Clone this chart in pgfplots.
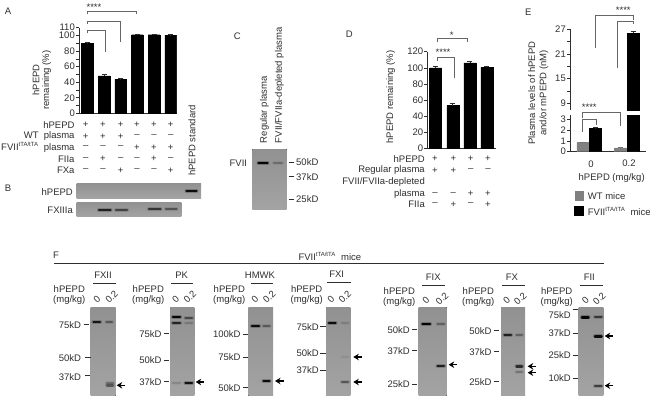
\documentclass[border=0pt]{standalone}
\usepackage{pgfplots}
\pgfplotsset{compat=1.18}
\usepackage{fontspec}
\setmainfont{Liberation Sans}
\usetikzlibrary{arrows.meta}

\definecolor{ink}{gray}{0.18}
\newcommand\fs{\fontsize{9.5}{10}\selectfont}
\newcommand\ft{FVII\textsuperscript{\fontsize{6}{6}\selectfont tTA/tTA}}

\pgfplotsset{
  barpanel/.style={
    scale only axis,
    axis lines=left,
    axis line style={-,ink,line width=0.7pt},
    tick style={ink,line width=0.6pt},
    major tick length=3pt,
    minor tick length=3pt,
    tick align=outside,
    xtick=\empty,
    ticklabel style={font=\fs,text=ink},
    /pgf/number format/assume math mode=true,
    yticklabel style={inner sep=1pt},
    ybar,
    bar shift=0pt,
    ymin=0,
  },
  barblack/.style={fill=black,draw=black,error bars/.cd,y dir=plus,y explicit,
    error bar style={ink,line width=0.6pt},error mark options={ink,line width=0.6pt,mark size=2.5pt,rotate=90}},
  bargray/.style={fill=black!50,draw=black!50,error bars/.cd,y dir=plus,y explicit,
    error bar style={black!55,line width=0.6pt},error mark options={black!55,line width=0.6pt,mark size=2.5pt,rotate=90}},
}

% band on a blot, in picture pixels: x0 x1 y strength
\newcommand\band[4]{%
  \addplot[forget plot,draw=black,line cap=round,line width=4.2pt,opacity=0.25*#4] coordinates {(#1,#3) (#2,#3)};
  \addplot[forget plot,draw=black,line cap=round,line width=2.4pt,opacity=#4] coordinates {(#1,#3) (#2,#3)};
}
\newcommand\blot[4]{\fill[top color=black!43,bottom color=black!36] (#1,#3) rectangle (#2,#4);}
\newcommand\mw[5]{% label, right edge of text, y of text, tick x0, tick y
  \node[anchor=east,inner sep=0pt,font=\fs,text=ink] at (#2,#3) {#1};
  \draw[ink,line width=0.7pt] (#4,#5) -- ++(5.5,0);}
\newcommand\arr[2]{\draw[-{Stealth[length=5.5pt,width=6.5pt]},black,line width=1.2pt] (#1+8.5,#2) -- (#1,#2);}
% title, title x, line x0, line x1, line y, hPEPD x, hPEPD y, 0 x, 0.2 x
\newcommand\head[9]{%
  \node[font=\fs,text=ink,inner sep=0pt] at (#2,#5-8) {#1};
  \draw[ink,line width=0.7pt] (#3,#5) -- (#4,#5);
  \node[font=\fs,text=ink,inner sep=0pt] at (#6,#7) {hPEPD};
  \node[font=\fs,text=ink,inner sep=0pt] at (#6,#7+11) {(mg/kg)};
  \node[font=\fs,text=ink,inner sep=0pt,rotate=45] at (#8,#7+10) {0};
  \node[font=\fs,text=ink,inner sep=0pt,rotate=45] at (#9,#7+8) {0.2};}
\newcommand\brk[4]{\draw[black!60,line width=0.8pt] #1 -- #2 -- #3 -- #4;}
\newcommand\row[4]{% label, y, right edge, x/sign list
  \node[anchor=east,inner sep=0pt,font=\fs,text=ink] at (#3,#2) {#1};
  \foreach \px/\sg in {#4} {\node[inner sep=0pt,font=\fs,text=ink] at (\px,#2) {\sg};}}

\begin{document}
\begin{tikzpicture}
\path[use as bounding box] (0,0) rectangle (656pt,-400pt);

% blots underneath everything
\begin{scope}[x=1pt,y=-1pt]
\blot{76.7}{201}{183.3}{198}
\blot{76.7}{181.3}{202}{216.7}
\blot{252.3}{286.7}{149.3}{209.3}
\blot{90.7}{115.7}{307.7}{395.5}
\blot{170}{194.3}{307.7}{395.5}
\blot{248.3}{273}{307.7}{395.5}
\blot{326}{350.3}{307.7}{395.5}
\blot{418.7}{446.7}{307.3}{395.5}
\blot{501}{525}{307.3}{395.5}
\blot{578.7}{603.3}{307.3}{395.5}
\end{scope}

% bands
\begin{axis}[scale only axis,hide axis,clip=false,width=656pt,height=400pt,
  at={(0pt,-400pt)},anchor=south west,xmin=0,xmax=656,ymin=0,ymax=400,y dir=reverse]
\band{186.5}{196.5}{190.7}{0.9}
\band{99}{110.5}{210}{0.75}
\band{116}{127}{210}{0.5}
\band{149}{160.5}{209}{0.6}
\band{166}{176.5}{208.7}{0.4}
\band{258.5}{267.5}{162.7}{0.95}
\band{274}{282}{162.7}{0.22}
% FXII
\band{93.5}{100}{322}{0.8}
\band{106.5}{112}{321.7}{0.35}
\band{107}{113}{385.3}{0.4}
\band{107}{113}{383}{0.25}
% PK
\band{173}{180}{316.7}{0.95}
\band{173}{180}{322.7}{0.7}
\band{185.5}{192}{317.7}{0.45}
\band{185.5}{192}{323}{0.15}
\band{185.5}{192}{382.7}{0.85}
\band{173}{180}{382.7}{0.12}
% HMWK
\band{252}{259}{326}{0.9}
\band{263.5}{269.5}{326}{0.35}
\band{263.5}{269.5}{380.7}{0.9}
% FXI
\band{329}{335.5}{322.7}{0.9}
\band{342}{348}{322.7}{0.12}
\band{342}{348}{356.7}{0.06}
\band{342}{348}{382}{0.4}
% FIX
\band{422.5}{430}{324}{0.95}
\band{437.5}{444}{324}{0.3}
\band{437.5}{444}{365.7}{0.75}
% FX
\band{504.5}{511}{334.7}{0.75}
\band{516.5}{522}{334.7}{0.3}
\band{516.5}{522}{366.3}{0.65}
\band{516.5}{522}{372}{0.22}
% FII
\band{582}{588.5}{317.3}{0.95}
\band{595}{601.5}{316.7}{0.55}
\band{595}{601.5}{336.3}{0.9}
\band{595}{601.5}{385.7}{0.55}
\end{axis}

% panel A
\begin{axis}[barpanel,at={(79pt,-113.3pt)},anchor=south west,width=97.7pt,height=85.6pt,
  xmin=0.5,xmax=6.36,ymax=110,bar width=11.7pt,
  ytick={0,20,40,60,80,100,110},minor ytick={10,30,50,70,90}]
\addplot[barblack] coordinates {(1,90) +- (0,0.7) (2,48) +- (0,1.5) (3,44) +- (0,0.7)
  (4,101) +- (0,1) (5,101) +- (0,0.5) (6,100.5) +- (0,0.7)};
\end{axis}

% panel D
\begin{axis}[barpanel,at={(427.3pt,-148.3pt)},anchor=south west,width=68.7pt,height=96.6pt,
  xmin=0.51,xmax=4.53,ymax=120,bar width=12pt,ytick={0,20,...,120}]
\addplot[barblack] coordinates {(1,100) +- (0,1.5) (2,53) +- (0,3) (3,106) +- (0,1.5) (4,101) +- (0,1)};
\end{axis}

% panel E, lower part of the broken axis
\begin{axis}[barpanel,at={(570pt,-151.7pt)},anchor=south west,width=75.7pt,height=36.7pt,
  xmin=-0.515,xmax=1.509,ymax=3.4,bar width=12pt,ytick={0,1,2,3}]
\addplot[bargray] coordinates {(-0.17,0.85) +- (0,0.06) (0.83,0.35) +- (0,0.04)};
\addplot[barblack] coordinates {(0.17,2.15) +- (0,0.08) (1.17,26) +- (0,0.6)};
\end{axis}

% panel E, upper part
\begin{axis}[barpanel,axis x line=none,at={(570pt,-110pt)},anchor=south west,width=75.7pt,height=80.7pt,
  xmin=-0.515,xmax=1.509,ymin=7.37,ymax=27,bar width=12pt,ytick={9,15,21,27},minor ytick={12,18,24},clip=false]
\addplot[barblack] coordinates {(1.17,26) +- (0,0.6)};
\end{axis}

\begin{scope}[x=1pt,y=-1pt,every node/.append style={font=\fs,text=ink}]
% letters
\node[inner sep=0pt] at (8,11) {A};
\node[inner sep=0pt] at (8,188) {B};
\node[inner sep=0pt] at (237.3,36) {C};
\node[inner sep=0pt] at (349.3,34) {D};
\node[inner sep=0pt] at (528.3,12) {E};
\node[inner sep=0pt] at (56,255.7) {F};

% A
\node[rotate=90,inner sep=0pt] at (36,80) {hPEPD};
\node[rotate=90,inner sep=0pt] at (46.7,80) {remaining (\%)};
\brk{(87.3,14.3)}{(87.3,11)}{(136.7,11)}{(136.7,14.3)}
\brk{(87.3,24.3)}{(87.3,21)}{(120.7,21)}{(120.7,42.3)}
\brk{(87.3,33.3)}{(87.3,30.7)}{(105,30.7)}{(105,51.7)}
\node[inner sep=0pt] at (94,7) {****};
\row{hPEPD}{125}{74.7}{85.7/+,103/+,120.7/+,137/+,154/+,170.7/+}
\row{WT\ \ plasma}{136.5}{74.7}{85.7/+,103/+,120.7/+,137/--,154/--,170.7/--}
\row{\ft\ \ plasma}{147.5}{74.7}{85.7/--,103/--,120.7/--,137/+,154/+,170.7/+}
\row{FIIa}{159}{74.7}{85.7/--,103/+,120.7/--,137/--,154/+,170.7/--}
\row{FXa}{170.3}{74.7}{85.7/--,103/--,120.7/+,137/--,154/--,170.7/+}
\node[rotate=90,anchor=west,inner sep=0pt] at (192,176) {hPEPD standard};

% B
\node[anchor=east,inner sep=0pt] at (73,192) {hPEPD};
\node[anchor=east,inner sep=0pt] at (73,210) {FXIIIa};

% C
\node[rotate=90,anchor=west,inner sep=0pt] at (264.3,143.3) {Regular plasma};
\node[rotate=90,anchor=west,inner sep=0pt] at (279.3,143.3) {FVII/FVIIa-depleted  plasma};
\node[anchor=east,inner sep=0pt] at (247.3,163) {FVII};
\node[anchor=west,inner sep=0pt] at (296,162.5) {50kD};
\node[anchor=west,inner sep=0pt] at (296,177.5) {37kD};
\node[anchor=west,inner sep=0pt] at (296,199.5) {25kD};
\draw[ink,line width=0.7pt] (288.5,162) -- ++(5,0) (288.5,176) -- ++(5,0) (288.5,199) -- ++(5,0);

% D
\node[rotate=90,inner sep=0pt] at (390.7,97) {hPEPD remaining (\%)};
\brk{(437,42)}{(437,38.3)}{(467.7,38.3)}{(467.7,41.5)}
\brk{(437,60.5)}{(437,57)}{(454,57)}{(454,78.3)}
\node[inner sep=0pt] at (451.7,35.5) {*};
\node[inner sep=0pt] at (443,52) {****};
\row{hPEPD}{158.7}{425}{435/+,453.3/+,470.7/+,488/+}
\row{Regular plasma}{170.3}{425}{435/+,453.3/+,470.7/--,488/--}
\node[anchor=east,inner sep=0pt] at (425,182) {FVII/FVIIa-depleted};
\row{plasma}{193.7}{425}{435/--,453.3/--,470.7/+,488/+}
\row{FIIa}{204.5}{425}{435/--,453.3/+,470.7/--,488/+}

% E
\node[rotate=90,inner sep=0pt] at (531.7,93) {Plasma levels of hPEPD};
\node[rotate=90,inner sep=0pt] at (544,93) {and/or mPEPD (nM)};
\brk{(595,48.3)}{(595,15.7)}{(633.3,15.7)}{(633.3,20)}
\brk{(617.7,68.3)}{(617.7,21)}{(633.3,21)}{(633.3,24.3)}
\brk{(582.3,118.3)}{(582.3,112.7)}{(620.3,112.7)}{(620.3,126)}
\brk{(582.3,131.7)}{(582.3,119)}{(596,119)}{(596,125)}
\node[inner sep=0pt] at (623.3,10.5) {****};
\node[inner sep=0pt] at (589.3,107.5) {****};
\node[inner sep=0pt] at (591,164) {0};
\node[inner sep=0pt] at (629,163) {0.2};
\node[inner sep=0pt] at (611.7,177.7) {hPEPD (mg/kg)};
\fill[black!50] (575,191) rectangle (583.7,201);
\fill[black] (574,205.7) rectangle (584,215.7);
\node[anchor=west,inner sep=0pt] at (587.7,196) {WT  mice};
\node[anchor=west,inner sep=0pt] at (587.7,211) {\ft\ \ mice};

% F
\draw[ink,line width=0.8pt] (54,263.7) -- (604.3,263.7);
\node[anchor=west,inner sep=0pt] at (298.3,256.7) {\ft\ \ mice};

\head{FXII}{103}{93.3}{115.7}{283.3}{69.3}{289}{97}{111.7}
\mw{75kD}{81.3}{325}{83.5}{324.3}
\mw{50kD}{81.3}{357.7}{85}{357.7}
\mw{37kD}{81.3}{376.7}{84.5}{375.3}
\arr{116.7}{385.3}

\head{PK}{181.7}{171}{193.3}{283.3}{148.3}{289}{175.7}{190}
\mw{75kD}{161.7}{334}{163.5}{333.5}
\mw{50kD}{161.7}{360}{163.5}{360}
\mw{37kD}{161.7}{381.7}{163.5}{381}
\arr{195.7}{382}

\head{HMWK}{260}{250.7}{273.3}{283.3}{229.3}{289}{255}{269.3}
\mw{100kD}{240.7}{333.7}{242.5}{334}
\mw{75kD}{240.7}{357.3}{242.5}{357}
\mw{50kD}{240.7}{387.7}{242.5}{387.5}
\arr{275}{381}

\head{FXI}{336.7}{327.3}{351}{282.3}{306.7}{289}{331}{345}
\mw{75kD}{319}{326.7}{320}{326}
\mw{50kD}{319}{353}{320}{353}
\mw{37kD}{319}{370.3}{320}{370}
\arr{353.3}{357}
\arr{353.3}{382}

\head{FIX}{433.3}{422}{445}{285}{399.3}{290.7}{426}{442}
\mw{50kD}{410}{330}{411.5}{329}
\mw{37kD}{410}{351}{411.5}{350.5}
\mw{25kD}{410}{384.3}{411.5}{384}
\arr{448.7}{364.7}

\head{FX}{512}{501.7}{524.7}{285}{478.3}{290.7}{506.7}{520.3}
\mw{50kD}{491.7}{331}{493.5}{330}
\mw{37kD}{491.7}{351.7}{493.5}{351}
\mw{25kD}{491.7}{382}{493.5}{381}
\arr{527.7}{366.3}
\arr{527.7}{372.7}

\head{FII}{589.3}{580.3}{602.7}{285}{556.7}{290.7}{585.3}{599.3}
\mw{75kD}{571}{315.3}{572.5}{309.7}
\mw{37kD}{571}{333.3}{572.5}{333}
\mw{25kD}{571}{355.3}{572.5}{355}
\mw{10kD}{571}{378.3}{572.5}{378}
\arr{604.7}{336}
\arr{604.7}{385.7}
\end{scope}
\end{tikzpicture}
\end{document}
